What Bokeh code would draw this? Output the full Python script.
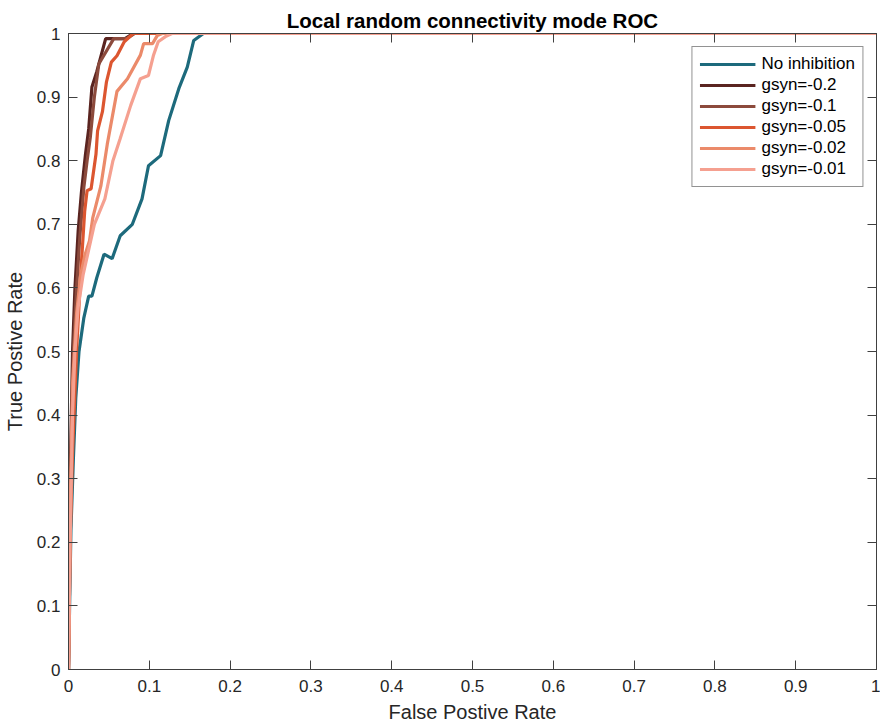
from bokeh.plotting import figure
from bokeh.models import LinearAxis, FixedTicker, CustomJSTickFormatter, Legend, LegendItem, Range1d
from bokeh.embed import file_html
from bokeh.resources import INLINE

# ---- data ----
ticks = [0, 0.1, 0.2, 0.3, 0.4, 0.5, 0.6, 0.7, 0.8, 0.9, 1.0]

no_inh_x = [0, 0.003, 0.006, 0.009, 0.013, 0.019, 0.025, 0.029, 0.035, 0.044, 0.054, 0.064, 0.079, 0.091, 0.099, 0.114, 0.124, 0.137, 0.147, 0.155, 0.167, 1.0]
no_inh_y = [0, 0.22, 0.33, 0.427, 0.5, 0.553, 0.587, 0.587, 0.616, 0.653, 0.646, 0.682, 0.70, 0.74, 0.792, 0.808, 0.863, 0.915, 0.947, 0.989, 1.0, 1.0]

g02_x = [0, 0.002, 0.005, 0.008, 0.012, 0.016, 0.021, 0.025, 0.029, 0.035, 0.046, 0.07, 0.08, 1.0]
g02_y = [0, 0.30, 0.50, 0.60, 0.69, 0.75, 0.81, 0.85, 0.916, 0.94, 0.992, 0.992, 1.0, 1.0]

g01_x = [0, 0.003, 0.006, 0.01, 0.014, 0.019, 0.023, 0.027, 0.032, 0.0375, 0.056, 0.072, 0.082, 1.0]
g01_y = [0, 0.30, 0.50, 0.60, 0.68, 0.758, 0.80, 0.837, 0.90, 0.952, 0.992, 0.992, 1.0, 1.0]

g005_x = [0, 0.002, 0.005, 0.01, 0.015, 0.02, 0.023, 0.028, 0.034, 0.036, 0.042, 0.047, 0.053, 0.06, 0.069, 0.08, 1.0]
g005_y = [0, 0.20, 0.34, 0.50, 0.62, 0.72, 0.753, 0.756, 0.81, 0.847, 0.877, 0.924, 0.955, 0.965, 0.987, 1.0, 1.0]

g002_x = [0, 0.002, 0.005, 0.01, 0.015, 0.02, 0.026, 0.03, 0.04, 0.048, 0.06, 0.073, 0.089, 0.093, 0.104, 0.11, 0.116, 1.0]
g002_y = [0, 0.25, 0.45, 0.56, 0.62, 0.65, 0.674, 0.71, 0.76, 0.826, 0.909, 0.929, 0.966, 0.984, 0.984, 0.997, 1.0, 1.0]

g001_x = [0, 0.002, 0.005, 0.008, 0.012, 0.018, 0.025, 0.032, 0.045, 0.055, 0.064, 0.077, 0.089, 0.099, 0.105, 0.111, 0.12, 0.128, 1.0]
g001_y = [0, 0.20, 0.40, 0.50, 0.57, 0.62, 0.66, 0.70, 0.74, 0.80, 0.835, 0.887, 0.929, 0.934, 0.965, 0.987, 0.995, 1.0, 1.0]

labels = ["No inhibition", "gsyn=-0.2", "gsyn=-0.1", "gsyn=-0.05", "gsyn=-0.02", "gsyn=-0.01"]
colors = ["#1d6a7c", "#5a2420", "#8c4a3c", "#dc5630", "#eb8a6a", "#f5a090"]
series = [(no_inh_x, no_inh_y), (g02_x, g02_y), (g01_x, g01_y),
          (g005_x, g005_y), (g002_x, g002_y), (g001_x, g001_y)]

FONT = "Liberation Sans"
TXT = "#262626"

p = figure(width=880, height=725, output_backend="svg", toolbar_location=None,
           x_range=Range1d(0, 1), y_range=Range1d(0, 1),
           min_border_left=66, min_border_right=4, min_border_bottom=52, min_border_top=33)

p.title.text = "Local random connectivity mode ROC"
p.title.align = "center"
p.title.text_font = FONT
p.title.text_font_size = "20.5px"
p.title.text_font_style = "bold"
p.title.text_color = "#000000"
p.title.standoff = 4

p.xgrid.visible = False
p.ygrid.visible = False
p.outline_line_color = "#404040"
p.outline_line_width = 1

fmt = CustomJSTickFormatter(code="return tick.toFixed(1).replace(/\\.0$/, '');")

for ax in (p.xaxis[0], p.yaxis[0]):
    ax.ticker = FixedTicker(ticks=ticks)
    ax.formatter = fmt
    ax.major_tick_in = 9
    ax.major_tick_out = 0
    ax.minor_tick_line_color = None
    ax.axis_line_color = "#404040"
    ax.major_tick_line_color = "#404040"
    ax.major_label_text_font = FONT
    ax.major_label_text_font_size = "17px"
    ax.major_label_text_color = TXT
    ax.axis_label_text_font = FONT
    ax.axis_label_text_font_size = "20px"
    ax.axis_label_text_font_style = "normal"
    ax.axis_label_text_color = TXT

p.xaxis[0].axis_label = "False Postive Rate"
p.yaxis[0].axis_label = "True Postive Rate"
p.xaxis[0].major_label_standoff = 10
p.yaxis[0].major_label_standoff = 8
p.xaxis[0].axis_label_standoff = 6
p.yaxis[0].axis_label_standoff = 8

for loc in ("above", "right"):
    a = LinearAxis(ticker=FixedTicker(ticks=ticks), major_tick_in=9, major_tick_out=0,
                   minor_tick_line_color=None, axis_line_color="#404040",
                   major_tick_line_color="#404040", major_label_text_font_size="0px",
                   major_label_standoff=0)
    p.add_layout(a, loc)

items = []
for (xs, ys), c, lab in zip(series, colors, labels):
    r = p.line(xs, ys, line_color=c, line_width=3.2)
    items.append(LegendItem(label=lab, renderers=[r]))

leg = Legend(items=items, location="top_right")
leg.label_text_font = FONT
leg.label_text_font_size = "17px"
leg.label_text_color = "#000000"
leg.glyph_width = 56
leg.glyph_height = 20
leg.label_height = 20
leg.spacing = 1
leg.padding = 7
leg.margin = 13
leg.label_standoff = 6
leg.border_line_color = "#262626"
leg.border_line_width = 1
leg.background_fill_color = "white"
p.add_layout(leg)

open("out.html", "w").write(file_html(p, INLINE))
